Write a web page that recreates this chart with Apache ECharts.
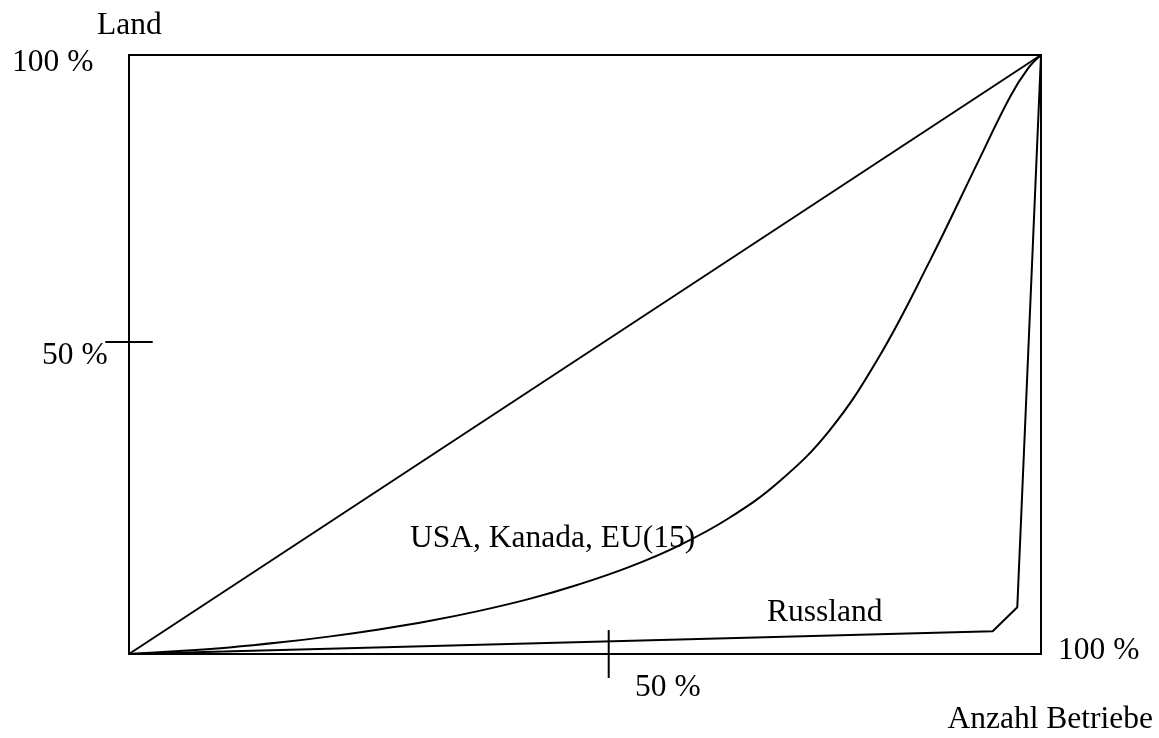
<!DOCTYPE html>
<html>
<head>
<meta charset="utf-8">
<script src="https://cdn.jsdelivr.net/npm/echarts@6/dist/echarts.min.js"></script>
<style>
html,body{margin:0;padding:0;background:#fff;}
#chart{width:1159px;height:738px;}
</style>
</head>
<body>
<div id="chart"></div>
<script>
// Cumulative share of farms (x, %) vs. cumulative share of land (y, %)
const equalityLine = [[0, 0], [100, 100]];
const usaKanadaEU = [
  [0, 0], [5.5, 0.5], [11.0, 1.1], [16.4, 1.9], [21.9, 2.9], [27.4, 4.1],
  [32.9, 5.5], [38.4, 7.2], [43.9, 9.2], [49.3, 11.6], [54.8, 14.5],
  [60.3, 18.1], [65.8, 22.7], [71.3, 28.8], [76.8, 37.3], [82.2, 49.5],
  [87.7, 65.3], [93.2, 82.5], [96.6, 93.0], [98.6, 97.8], [100, 100]
];
const russland = [[0, 0], [94.7, 3.8], [97.4, 7.8], [100, 100]];
const xTickPos = 52.6;   // "50 %" mark on x axis
const yTickPos = 52.1;   // "50 %" mark on y axis
const tickSegments = [
  [xTickPos, -4, xTickPos, 4],
  [-2.6, yTickPos, 2.6, yTickPos]
];
const tickLabels = ['100 %', '50 %', '50 %', '100 %'];
const axisTitles = ['Land', 'Anzahl Betriebe'];
const seriesNames = ['USA, Kanada, EU(15)', 'Russland'];

const FONT = '"Liberation Serif", "Times New Roman", serif';
const FS = 31.5;
function txt(text, left, top, align) {
  const el = {
    type: 'text',
    top: top,
    style: { text: text, fill: '#000', font: FS + 'px ' + FONT, textAlign: align || 'left', textVerticalAlign: 'top' }
  };
  if (align === 'right') el.right = left; else el.left = left;
  return el;
}

const chart = echarts.init(document.getElementById('chart'));
const lineStyle = { color: '#000', width: 2 };
chart.setOption({
  animation: false,
  backgroundColor: '#fff',
  grid: { left: 129, top: 55, width: 912, height: 599, show: true, borderColor: '#000', borderWidth: 2, backgroundColor: 'transparent' },
  xAxis: { type: 'value', min: 0, max: 100, show: false },
  yAxis: { type: 'value', min: 0, max: 100, show: false },
  series: [
    { type: 'line', data: equalityLine, symbol: 'none', lineStyle: lineStyle, clip: false },
    { type: 'line', name: seriesNames[0], data: usaKanadaEU, symbol: 'none', smooth: 0.4, lineStyle: lineStyle, clip: false },
    { type: 'line', name: seriesNames[1], data: russland, symbol: 'none', lineStyle: lineStyle, clip: false },
    {
      type: 'custom', data: tickSegments, clip: false, silent: true,
      encode: { x: [0, 2], y: [1, 3] },
      renderItem: function (params, api) {
        const p1 = api.coord([api.value(0), api.value(1)]);
        const p2 = api.coord([api.value(2), api.value(3)]);
        return { type: 'line', shape: { x1: p1[0], y1: p1[1], x2: p2[0], y2: p2[1] }, style: { stroke: '#000', lineWidth: 2 } };
      }
    }
  ],
  graphic: [
    txt(axisTitles[0], 97, 10),
    txt(tickLabels[0], 12, 47),
    txt(tickLabels[1], 42, 340),
    txt(tickLabels[2], 635, 672),
    txt(tickLabels[3], 1058, 635),
    txt(axisTitles[1], 6, 704, 'right'),
    txt(seriesNames[1], 767, 597),
    txt(seriesNames[0], 410, 523)
  ]
});
</script>
</body>
</html>
